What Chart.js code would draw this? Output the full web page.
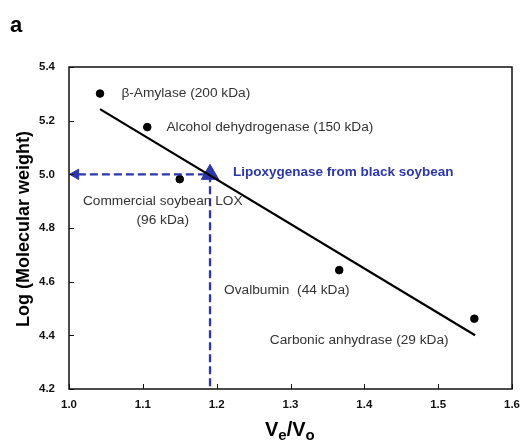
<!DOCTYPE html>
<html lang="en">
<head>
<meta charset="UTF-8">
<title>Gel filtration calibration</title>
<script src="https://cdn.jsdelivr.net/npm/chart.js"></script>
<style>
  html, body { margin: 0; padding: 0; background: #fff; }
  #wrap { position: relative; width: 525px; height: 444px; }
</style>
</head>
<body>
<div id="wrap"><canvas id="chart" width="525" height="444"></canvas></div>
<script>
// standard proteins: Ve/Vo and log(MW)
const proteinNames = ['β-Amylase (200 kDa)', 'Alcohol dehydrogenase (150 kDa)', 'Commercial soybean LOX', 'Ovalbumin  (44 kDa)', 'Carbonic anhydrase (29 kDa)'];
const veVo = [1.042, 1.106, 1.150, 1.366, 1.549];
const logMW = [5.301, 5.176, 4.982, 4.643, 4.462];

// fitted line end points
const fitX = [1.042, 1.550];
const fitY = [5.243, 4.400];

// sample: lipoxygenase from black soybean
const sampleX = 1.191;
const sampleY = 5.0;
const sampleName = 'Lipoxygenase from black soybean';

const xTicks = [1.0, 1.1, 1.2, 1.3, 1.4, 1.5, 1.6];
const yTicks = [4.2, 4.4, 4.6, 4.8, 5.0, 5.2, 5.4];

// where each label sits, in data units
const labelSpots = [
  { x: 1.071, y: 5.303, align: 'left' },
  { x: 1.132, y: 5.176, align: 'left' },
  { x: 1.127, y: 4.898, align: 'center', extra: '(96 kDa)' },
  { x: 1.210, y: 4.567, align: 'left' },
  { x: 1.272, y: 4.383, align: 'left' }
];

const blue = '#2c37ab';

const deco = {
  id: 'deco',
  afterDraw(chart) {
    const { ctx, chartArea: a, scales: { x, y } } = chart;
    ctx.save();
    // frame
    ctx.strokeStyle = '#111';
    ctx.lineWidth = 1.5;
    ctx.strokeRect(a.left, a.top, a.right - a.left, a.bottom - a.top);
    // inward ticks
    ctx.lineWidth = 1;
    xTicks.forEach(v => {
      const px = Math.round(x.getPixelForValue(v)) + 0.5;
      ctx.beginPath(); ctx.moveTo(px, a.bottom); ctx.lineTo(px, a.bottom - 5); ctx.stroke();
    });
    yTicks.forEach(v => {
      const py = Math.round(y.getPixelForValue(v)) + 0.5;
      ctx.beginPath(); ctx.moveTo(a.left, py); ctx.lineTo(a.left + 5, py); ctx.stroke();
    });

    // point labels
    ctx.fillStyle = '#333';
    ctx.font = '13.7px "Liberation Sans", Arial, sans-serif';
    ctx.textBaseline = 'middle';
    proteinNames.forEach((name, i) => {
      const s = labelSpots[i];
      ctx.textAlign = s.align;
      const px = x.getPixelForValue(s.x), py = y.getPixelForValue(s.y);
      ctx.fillText(name, px, py);
      if (s.extra) ctx.fillText(s.extra, px, py + 19);
    });
    ctx.fillStyle = blue;
    ctx.font = 'bold 13.5px "Liberation Sans", Arial, sans-serif';
    ctx.textAlign = 'left';
    ctx.fillText(sampleName, x.getPixelForValue(1.222), y.getPixelForValue(5.008));

    // panel letter
    ctx.fillStyle = '#000';
    ctx.font = 'bold 22px "Liberation Sans", Arial, sans-serif';
    ctx.fillText('a', 10, 26);

    // y title
    ctx.save();
    ctx.translate(24, 229);
    ctx.rotate(-Math.PI / 2);
    ctx.textAlign = 'center';
    ctx.font = 'bold 18px "Liberation Sans", Arial, sans-serif';
    ctx.fillText('Log (Molecular weight)', 0, 0);
    ctx.restore();

    // x title V_e/V_o
    ctx.textBaseline = 'alphabetic';
    ctx.textAlign = 'left';
    const big = 'bold 20px "Liberation Sans", Arial, sans-serif';
    const small = 'bold 15px "Liberation Sans", Arial, sans-serif';
    let cx = 265;
    const base = 436;
    ctx.font = big; ctx.fillText('V', cx, base); cx += ctx.measureText('V').width;
    ctx.font = small; ctx.fillText('e', cx, base + 4); cx += ctx.measureText('e').width;
    ctx.font = big; ctx.fillText('/V', cx, base); cx += ctx.measureText('/V').width;
    ctx.font = small; ctx.fillText('o', cx, base + 4);
    ctx.restore();
  }
};

new Chart(document.getElementById('chart'), {
  type: 'scatter',
  data: {
    datasets: [
      {
        type: 'line',
        data: [{ x: fitX[0], y: fitY[0] }, { x: fitX[1], y: fitY[1] }],
        borderColor: '#000', borderWidth: 2.3, pointRadius: 0, fill: false
      },
      {
        type: 'line',
        data: [{ x: xTicks[0] + 0.012, y: sampleY }, { x: sampleX, y: sampleY }, { x: sampleX, y: yTicks[0] }],
        borderColor: blue, borderWidth: 2.3, borderDash: [8, 4], fill: false,
        pointRadius: 0
      },
      {
        // arrow head pointing at the y axis
        data: [{ x: xTicks[0] + 0.009, y: sampleY }],
        pointStyle: 'triangle', pointRadius: 6, rotation: -90,
        pointBackgroundColor: blue, pointBorderColor: blue, pointBorderWidth: 1,
        clip: false
      },
      {
        data: veVo.map((v, i) => ({ x: v, y: logMW[i] })),
        pointRadius: 3.8, pointBackgroundColor: '#000', pointBorderColor: '#000'
      },
      {
        data: [{ x: sampleX, y: sampleY }],
        pointStyle: 'triangle', pointRadius: 10,
        pointBackgroundColor: blue, pointBorderColor: blue
      }
    ]
  },
  options: {
    responsive: false,
    animation: false,
    layout: { padding: { top: 67, right: 13, left: 0, bottom: 0 } },
    plugins: { legend: { display: false }, tooltip: { enabled: false } },
    scales: {
      x: {
        type: 'linear', min: 1.0, max: 1.6,
        afterBuildTicks: s => { s.ticks = xTicks.map(v => ({ value: v })); },
        afterFit: s => { s.height = 55; },
        grid: { display: false },
        border: { display: false },
        ticks: {
          padding: 1, color: '#111',
          font: { family: '"Liberation Sans", Arial', size: 11.5, weight: 'bold' },
          callback: v => v.toFixed(1)
        }
      },
      y: {
        type: 'linear', min: 4.2, max: 5.4,
        afterBuildTicks: s => { s.ticks = yTicks.map(v => ({ value: v })); },
        afterFit: s => { s.width = 69; },
        grid: { display: false },
        border: { display: false },
        ticks: {
          padding: 6, color: '#111',
          font: { family: '"Liberation Sans", Arial', size: 11.5, weight: 'bold' },
          callback: v => v.toFixed(1)
        }
      }
    }
  },
  plugins: [deco]
});
</script>
</body>
</html>
